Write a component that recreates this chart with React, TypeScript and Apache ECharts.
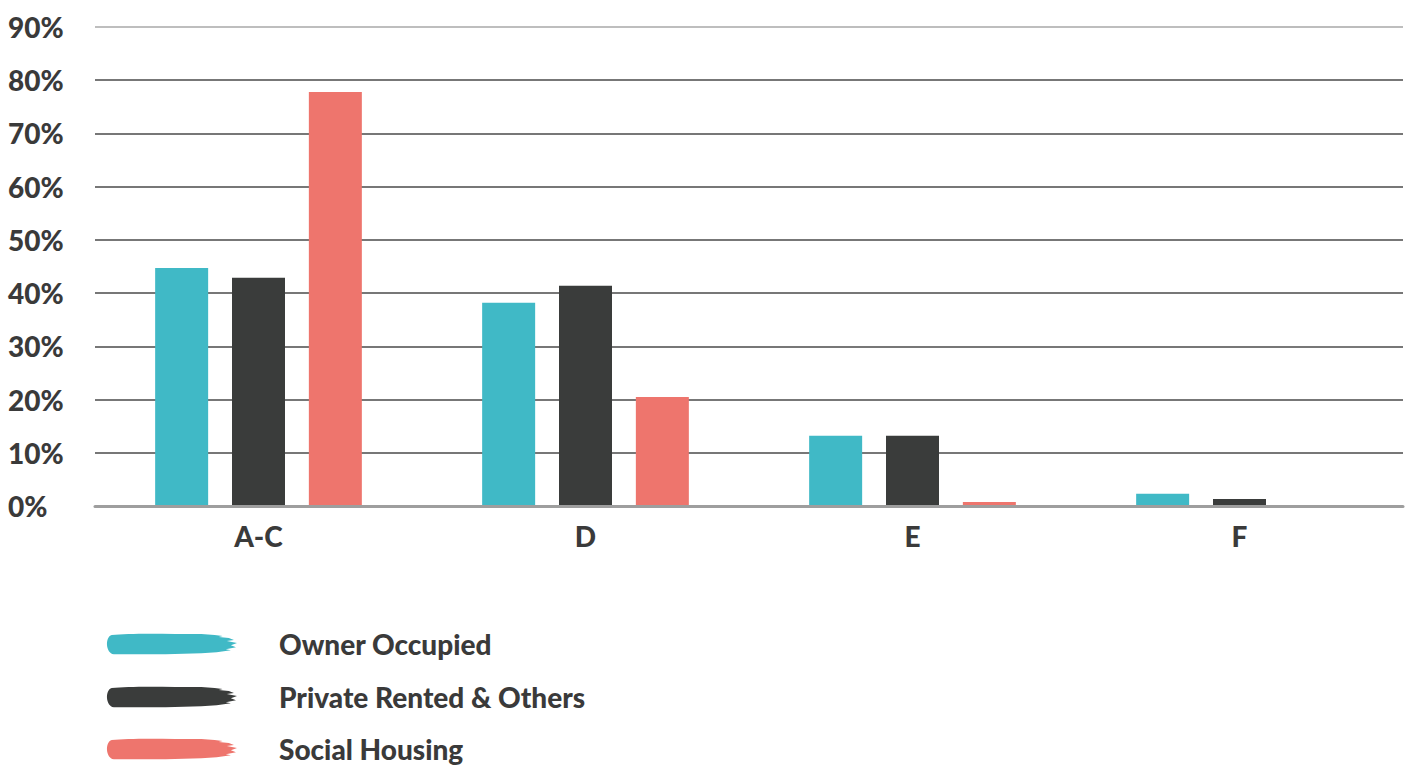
import React, { useEffect, useRef } from "react";
import * as echarts from "echarts";

const categories = ["A-C", "D", "E", "F"];
const ownerOccupied = [44.7, 38.2, 13.2, 2.3];
const privateRented = [42.9, 41.4, 13.2, 1.3];
const socialHousing = [77.8, 20.5, 0.75, 0];
const seriesNames = ["Owner Occupied", "Private Rented & Others", "Social Housing"];
const colors = ["#40b9c6", "#3a3c3b", "#ee756d"];

const brush =
  "path://M7,3 C25,1 60,2 95,2 L108,3 L116,4 L112,5 L122,6 L127,8 L120,9 L130,11 L124,13 L129,15 L119,17 L124,18 L110,20 L95,21 L60,22 L30,22 L9,22 C1,21 0,5 7,3 Z";

const FONT = "Lato, 'Open Sans', sans-serif";
const legendTops = [630, 683, 735];

export default function App() {
  const ref = useRef<HTMLDivElement>(null);
  useEffect(() => {
    if (!ref.current) return;
    const chart = echarts.init(ref.current, undefined, { renderer: "svg" });
    const data = [ownerOccupied, privateRented, socialHousing];
    chart.setOption({
      animation: false,
      backgroundColor: "#ffffff",
      grid: { left: 95, right: 7, top: 27, bottom: 263, containLabel: false },
      legend: seriesNames.map((name, i) => ({
        orient: "horizontal",
        left: 107,
        top: legendTops[i],
        padding: 0,
        itemWidth: 130,
        itemHeight: 24,
        icon: brush,
        data: [name],
        textStyle: {
          fontFamily: FONT,
          fontWeight: 900,
          fontSize: 28,
          color: "#3a3a3a",
          padding: [3, 0, 0, 37],
        },
      })),
      xAxis: {
        type: "category",
        data: categories,
        axisLine: { show: true, lineStyle: { color: "#9e9e9e", width: 3 } },
        axisTick: { show: false },
        axisLabel: {
          margin: 16,
          fontFamily: FONT,
          fontWeight: 900,
          fontSize: 28,
          color: "#3a3a3a",
        },
        z: 5,
      },
      yAxis: {
        type: "value",
        min: 0,
        max: 90,
        interval: 10,
        axisLine: { show: false },
        axisTick: { show: false },
        axisLabel: {
          formatter: "{value}%",
          align: "left",
          margin: 87,
          fontFamily: FONT,
          fontWeight: 900,
          fontSize: 28,
          color: "#3a3a3a",
        },
        splitLine: {
          show: true,
          lineStyle: {
            width: 1.5,
            color: ["#9e9e9e", "#4a4a4a", "#4a4a4a", "#4a4a4a", "#4a4a4a", "#4a4a4a", "#4a4a4a", "#4a4a4a", "#4a4a4a", "#a8a8a8"],
          },
        },
      },
      series: seriesNames.map((name, i) => ({
        name,
        type: "bar",
        data: data[i],
        barWidth: 53,
        barGap: "45%",
        itemStyle: { color: colors[i] },
      })),
    });
    return () => chart.dispose();
  }, []);
  return <div ref={ref} style={{ width: 1410, height: 769, position: "absolute", left: 0, top: 0 }} />;
}
